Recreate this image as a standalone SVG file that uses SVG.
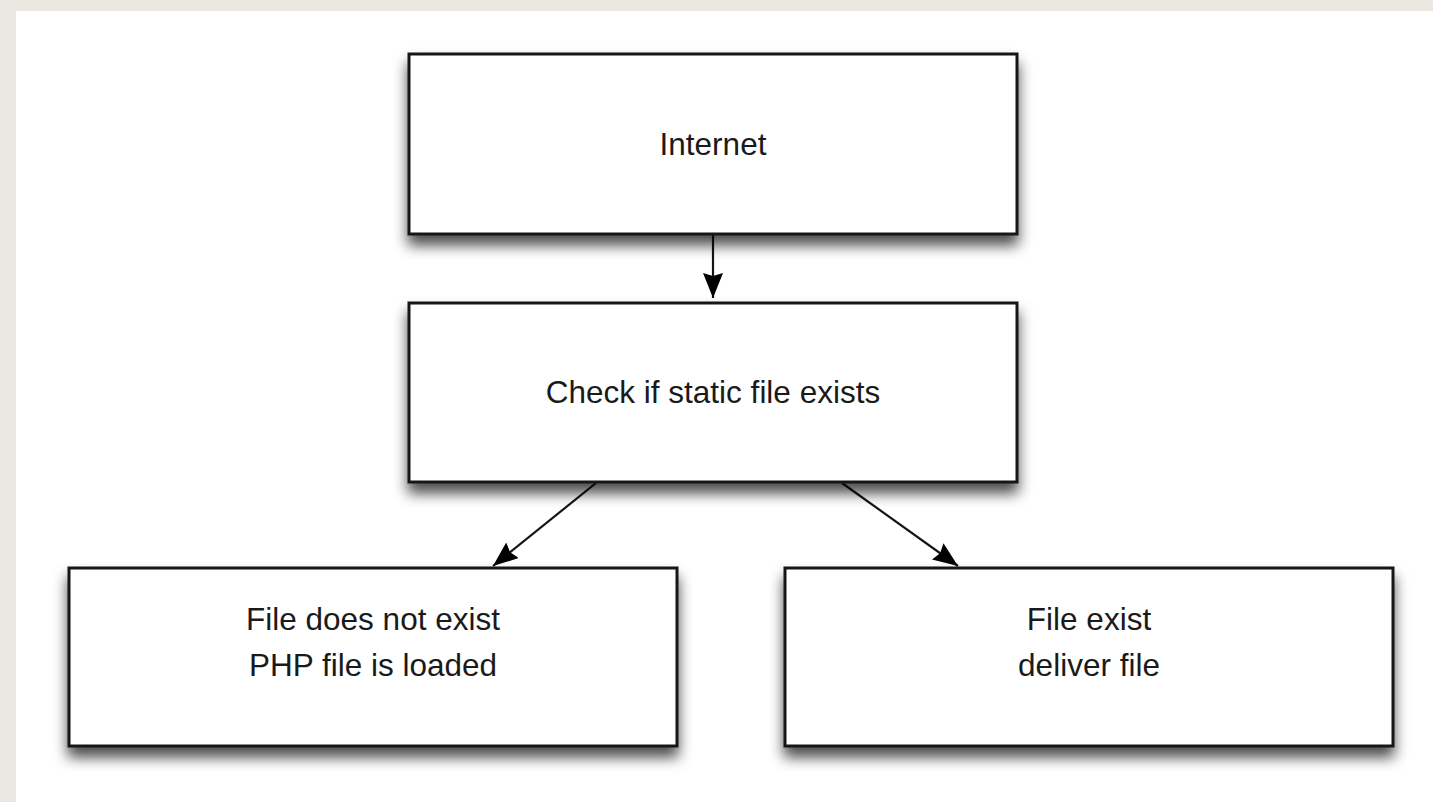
<svg xmlns="http://www.w3.org/2000/svg" width="1433" height="802" viewBox="0 0 1433 802">
  <defs>
    <filter id="shadow" x="-10%" y="-20%" width="120%" height="160%">
      <feDropShadow dx="0" dy="10" stdDeviation="7" flood-color="#000" flood-opacity="0.7"/>
    </filter>
    <marker id="arrow" viewBox="0 0 25 20" refX="25" refY="10" markerWidth="25" markerHeight="20" markerUnits="userSpaceOnUse" orient="auto">
      <path d="M0,0 L25,10 L0,20 L3,10 Z" fill="#000"/>
    </marker>
    <style>
      .box { fill: #ffffff; stroke: #151515; stroke-width: 3; filter: url(#shadow); }
      .label { font-family: "Liberation Sans", Arial, sans-serif; font-size: 31.5px; fill: #1a1a1a; text-anchor: middle; }
      .conn { stroke: #151515; stroke-width: 2.2; fill: none; marker-end: url(#arrow); }
    </style>
  </defs>
  <rect x="0" y="0" width="1433" height="802" fill="#e9e7e0"/>
  <rect x="16" y="11" width="1417" height="791" fill="#ffffff"/>

  <g id="connectors">
    <line class="conn" x1="713" y1="235" x2="713" y2="298"/>
    <line class="conn" x1="596" y1="483" x2="493" y2="566"/>
    <line class="conn" x1="842" y1="483" x2="958" y2="566"/>
  </g>

  <g id="node-internet">
    <rect class="box" x="409" y="54" width="608" height="180"/>
    <text class="label" x="713" y="155">Internet</text>
  </g>

  <g id="node-check">
    <rect class="box" x="409" y="303" width="608" height="179"/>
    <text class="label" x="713" y="403">Check if static file exists</text>
  </g>

  <g id="node-not-exist">
    <rect class="box" x="69" y="568" width="608" height="178"/>
    <text class="label" x="373" y="630">File does not exist</text>
    <text class="label" x="373" y="676">PHP file is loaded</text>
  </g>

  <g id="node-exist">
    <rect class="box" x="785" y="568" width="608" height="178"/>
    <text class="label" x="1089" y="630">File exist</text>
    <text class="label" x="1089" y="676">deliver file</text>
  </g>
</svg>
